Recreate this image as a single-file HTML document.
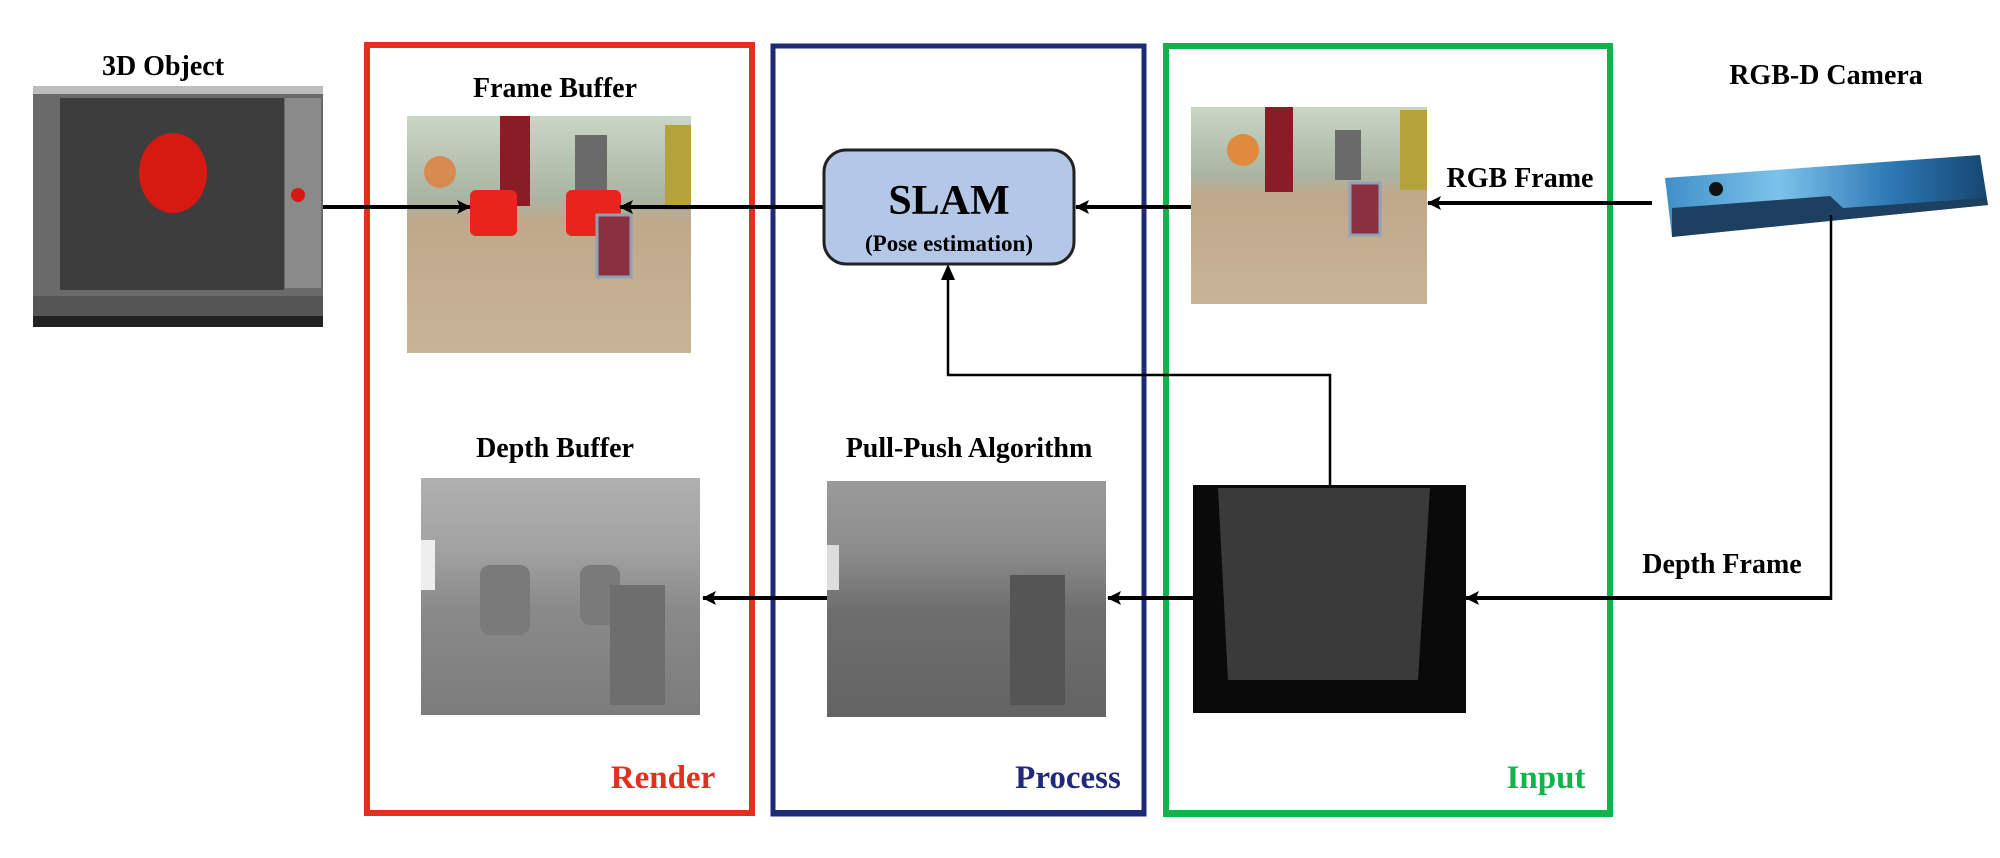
<!DOCTYPE html>
<html><head><meta charset="utf-8"><style>
html,body{margin:0;padding:0;background:#fff}
svg{display:block}
text{font-family:"Liberation Serif",serif;font-weight:bold}
</style></head><body>
<svg width="2000" height="858" viewBox="0 0 2000 858" xmlns="http://www.w3.org/2000/svg">
<defs>
<marker id="ah" markerWidth="14" markerHeight="14" refX="13" refY="7" orient="auto" markerUnits="userSpaceOnUse">
<path d="M0,0 L14,7 L0,14 L3,7 Z" fill="#000"/></marker>
<linearGradient id="fb" x1="0" y1="0" x2="0" y2="1">
<stop offset="0" stop-color="#c9d6c6"/><stop offset="0.35" stop-color="#a9b4a2"/><stop offset="0.45" stop-color="#c0a88a"/><stop offset="1" stop-color="#c7b497"/></linearGradient>
<linearGradient id="db" x1="0" y1="0" x2="0" y2="1">
<stop offset="0" stop-color="#b0b0b0"/><stop offset="0.3" stop-color="#a2a2a2"/><stop offset="0.55" stop-color="#8a8a8a"/><stop offset="1" stop-color="#7c7c7c"/></linearGradient>
<linearGradient id="pp" x1="0" y1="0" x2="0" y2="1">
<stop offset="0" stop-color="#9a9a9a"/><stop offset="0.3" stop-color="#8c8c8c"/><stop offset="0.55" stop-color="#6e6e6e"/><stop offset="1" stop-color="#646464"/></linearGradient>
<linearGradient id="cam" x1="0" y1="0" x2="1" y2="0">
<stop offset="0" stop-color="#3f8fc8"/><stop offset="0.35" stop-color="#7cc3ea"/><stop offset="0.7" stop-color="#2d78b4"/><stop offset="1" stop-color="#15466f"/></linearGradient>
</defs>

<rect x="367" y="45" width="385" height="768" fill="none" stroke="#e0301e" stroke-width="6"/>
<rect x="773" y="46" width="371" height="768" fill="none" stroke="#1f2a78" stroke-width="5"/>
<rect x="1166" y="46" width="444" height="768" fill="none" stroke="#10b44a" stroke-width="6"/>
<rect x="364" y="810" width="391" height="6" fill="#e0301e"/>
<rect x="771" y="810" width="375" height="6" fill="#1f2a78"/>
<rect x="1163" y="810" width="450" height="7" fill="#10b44a"/>

<text x="663" y="788" font-size="33" fill="#e0301e" text-anchor="middle">Render</text>
<text x="1068" y="788" font-size="33" fill="#1f2a78" text-anchor="middle">Process</text>
<text x="1546" y="788" font-size="33" fill="#10b44a" text-anchor="middle">Input</text>

<text x="163" y="75" font-size="28" text-anchor="middle">3D Object</text>
<text x="555" y="97" font-size="28" text-anchor="middle">Frame Buffer</text>
<text x="1826" y="84" font-size="28" text-anchor="middle">RGB-D Camera</text>
<text x="1520" y="187" font-size="28" text-anchor="middle">RGB Frame</text>
<text x="555" y="457" font-size="28" text-anchor="middle">Depth Buffer</text>
<text x="969" y="457" font-size="28" text-anchor="middle">Pull-Push Algorithm</text>
<text x="1722" y="573" font-size="28" text-anchor="middle">Depth Frame</text>

<rect x="33" y="86" width="290" height="241" fill="#6a6a6a"/>
<rect x="33" y="86" width="290" height="8" fill="#bdbdbd"/>
<rect x="60" y="98" width="224" height="192" fill="#3d3d3d"/>
<rect x="285" y="98" width="36" height="190" fill="#8a8a8a"/>
<rect x="33" y="296" width="290" height="20" fill="#555"/>
<rect x="33" y="316" width="290" height="11" fill="#222"/>
<ellipse cx="173" cy="173" rx="34" ry="40" fill="#d61a12"/>
<circle cx="298" cy="195" r="7" fill="#d61a12"/>

<rect x="407" y="116" width="284" height="237" fill="url(#fb)"/>
<rect x="500" y="116" width="30" height="90" fill="#8a1c25"/>
<rect x="575" y="135" width="32" height="70" fill="#6a6a6a"/>
<rect x="665" y="125" width="26" height="85" fill="#b5a23a"/>
<circle cx="440" cy="172" r="16" fill="#d98a50"/>
<rect x="470" y="190" width="47" height="46" rx="6" fill="#e8241b"/>
<rect x="566" y="190" width="55" height="46" rx="6" fill="#e8241b"/>
<rect x="597" y="215" width="34" height="62" fill="#8a3040" stroke="#8fa3b8" stroke-width="3"/>

<rect x="1191" y="107" width="236" height="197" fill="url(#fb)"/>
<rect x="1265" y="107" width="28" height="85" fill="#8a1c25"/>
<rect x="1335" y="130" width="26" height="50" fill="#6a6a6a"/>
<rect x="1400" y="110" width="27" height="80" fill="#b5a23a"/>
<circle cx="1243" cy="150" r="16" fill="#e08a40"/>
<rect x="1350" y="183" width="30" height="52" fill="#8a3040" stroke="#8fa3b8" stroke-width="3"/>

<polygon points="1665,178 1980,155 1988,205 1672,237" fill="url(#cam)"/>
<polygon points="1672,208 1830,196 1843,208 1986,198 1988,205 1672,237" fill="#1d3f60"/>
<circle cx="1716" cy="189" r="7" fill="#111"/>

<rect x="421" y="478" width="279" height="237" fill="url(#db)"/>
<rect x="480" y="565" width="50" height="70" rx="10" fill="#7a7a7a"/>
<rect x="580" y="565" width="40" height="60" rx="10" fill="#7a7a7a"/>
<rect x="610" y="585" width="55" height="120" fill="#6e6e6e"/>
<rect x="421" y="540" width="14" height="50" fill="#eee"/>

<rect x="827" y="481" width="279" height="236" fill="url(#pp)"/>
<rect x="1010" y="575" width="55" height="130" fill="#555"/>
<rect x="827" y="545" width="12" height="45" fill="#ddd"/>

<rect x="1193" y="485" width="273" height="228" fill="#0a0a0a"/>
<polygon points="1218,488 1430,488 1418,680 1228,680" fill="#3a3a3a"/>

<g stroke="#000" stroke-width="4" fill="none">
<line x1="323" y1="207" x2="470" y2="207" marker-end="url(#ah)"/>
<line x1="823" y1="207" x2="620" y2="207" marker-end="url(#ah)"/>
<line x1="1191" y1="207" x2="1076" y2="207" marker-end="url(#ah)"/>
<line x1="1652" y1="203" x2="1428" y2="203" marker-end="url(#ah)"/>
<line x1="1193" y1="598" x2="1108" y2="598" marker-end="url(#ah)"/>
<line x1="827" y1="598" x2="703" y2="598" marker-end="url(#ah)"/>
<line x1="1831" y1="598" x2="1466" y2="598" marker-end="url(#ah)"/>
</g>
<g stroke="#000" stroke-width="2.5" fill="none">
<polyline points="1330,485 1330,375 948,375 948,276"/>
<line x1="1831" y1="215" x2="1831" y2="600"/>
</g>
<path d="M941,280 L948,264 L955,280 Z" fill="#000"/>

<rect x="824" y="150" width="250" height="114" rx="22" fill="#b4c7e7" stroke="#222" stroke-width="3"/>
<text x="949" y="214" font-size="42" text-anchor="middle">SLAM</text>
<text x="949" y="251" font-size="23" text-anchor="middle">(Pose estimation)</text>
</svg>
</body></html>
